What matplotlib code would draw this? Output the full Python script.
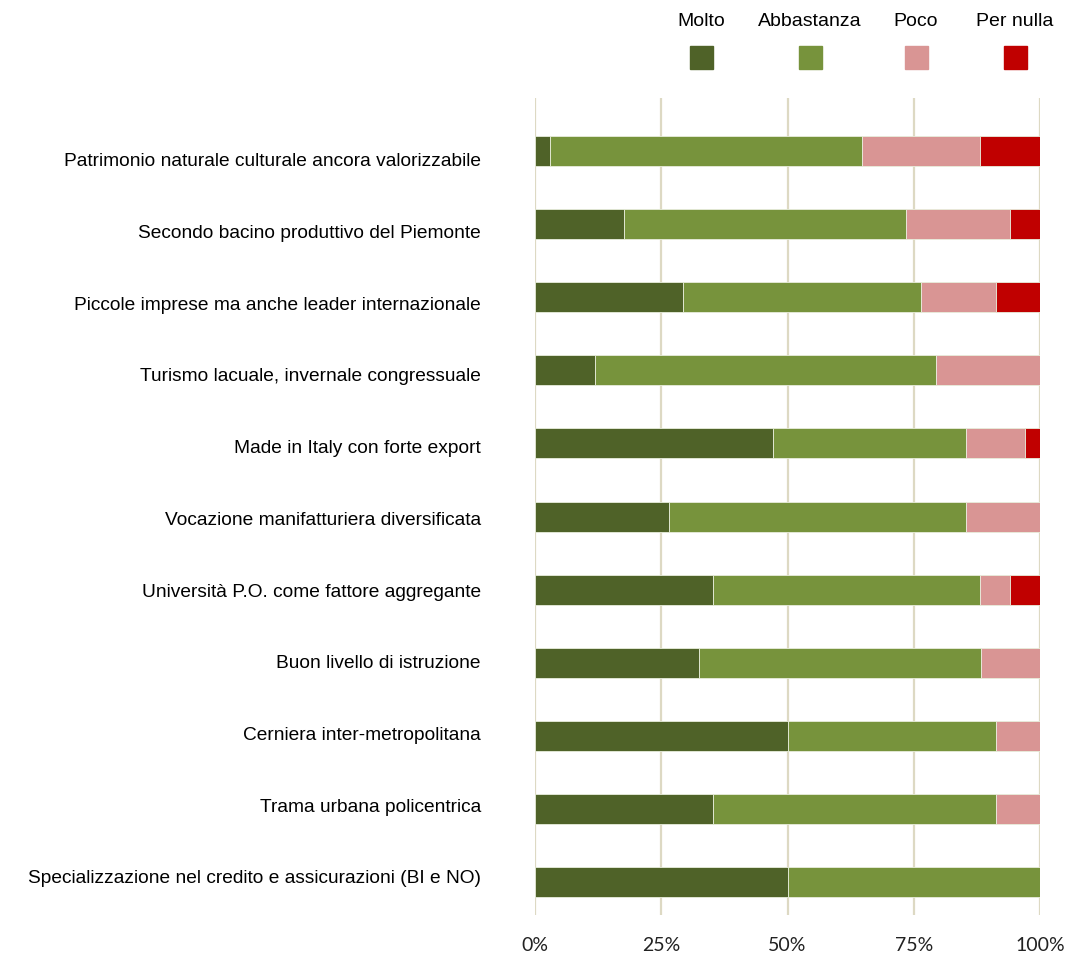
import numpy as np
import matplotlib

matplotlib.use("Agg")
import matplotlib.pyplot as plt  # noqa: E402
from matplotlib.patches import Rectangle  # noqa: E402

categories = [
    "Patrimonio naturale culturale ancora valorizzabile",
    "Secondo bacino produttivo del Piemonte",
    "Piccole imprese ma anche leader internazionale",
    "Turismo lacuale, invernale congressuale",
    "Made in Italy con forte export",
    "Vocazione manifatturiera diversificata",
    "Università P.O. come fattore aggregante",
    "Buon livello di istruzione",
    "Cerniera inter-metropolitana",
    "Trama urbana policentrica",
    "Specializzazione nel credito e assicurazioni (BI e NO)",
]
molto = [2.9, 17.6, 29.4, 11.8, 47.1, 26.5, 35.3, 32.4, 50.0, 35.3, 50.0]
abbastanza = [61.8, 55.9, 47.1, 67.6, 38.2, 58.8, 52.9, 55.9, 41.2, 55.9, 50.0]
poco = [23.5, 20.6, 14.7, 20.6, 11.8, 14.7, 5.9, 11.8, 8.8, 8.8, 0.0]
per_nulla = [11.8, 5.9, 8.8, 0.0, 2.9, 0.0, 5.9, 0.0, 0.0, 0.0, 0.0]
series_names = ["Molto", "Abbastanza", "Poco", "Per nulla"]
colors = ["#4F6228", "#77933C", "#D99594", "#C00000"]
ticks = [0, 25, 50, 75, 100]
tick_labels = ["0%", "25%", "50%", "75%", "100%"]

LABEL_FONT = ["Liberation Sans", "DejaVu Sans"]
TICK_FONT = ["Lato", "DejaVu Sans"]

fig = plt.figure(figsize=(10.70, 9.56), dpi=100)
ax = fig.add_axes([0.5, 0.0429, 0.472, 0.8546])

y = np.arange(len(categories))
left = np.zeros(len(categories))
for vals, c in zip([molto, abbastanza, poco, per_nulla], colors):
    vals = np.asarray(vals)
    ax.barh(y, vals, left=left, height=0.41, color=c,
            edgecolor="#E8EDDC", linewidth=0.6, zorder=3)
    left += vals

ax.set_xlim(0, 100)
ax.set_ylim(10.45, -0.725)
for t in ticks:
    ax.axvline(t, color="#DDD9C3", lw=1.6, zorder=1)

# category labels are spaced slightly tighter than the bars in the original
ax.set_yticks(0.12 + y * 0.981)
ax.set_yticklabels(categories, family=LABEL_FONT, fontsize=13.8)
ax.set_xticks(ticks)
ax.set_xticklabels(tick_labels, family=TICK_FONT, fontsize=14, color="#222222")
ax.tick_params(length=0)
ax.tick_params(axis="y", pad=39)
ax.tick_params(axis="x", pad=16)
for s in ax.spines.values():
    s.set_visible(False)

# legend: labels above squares
W, H = 1070, 956
leg_x = [701, 810, 916, 1015]
for name, c, lx in zip(series_names, colors, leg_x):
    fig.text(lx / W, 1 - 22 / H, name, ha="center", va="center",
             family=LABEL_FONT, fontsize=14)
    fig.patches.append(Rectangle(((lx - 11.5) / W, 1 - 69 / H), 23 / W, 23 / H,
                                 transform=fig.transFigure, color=c))

fig.savefig("out.png", dpi=100)
